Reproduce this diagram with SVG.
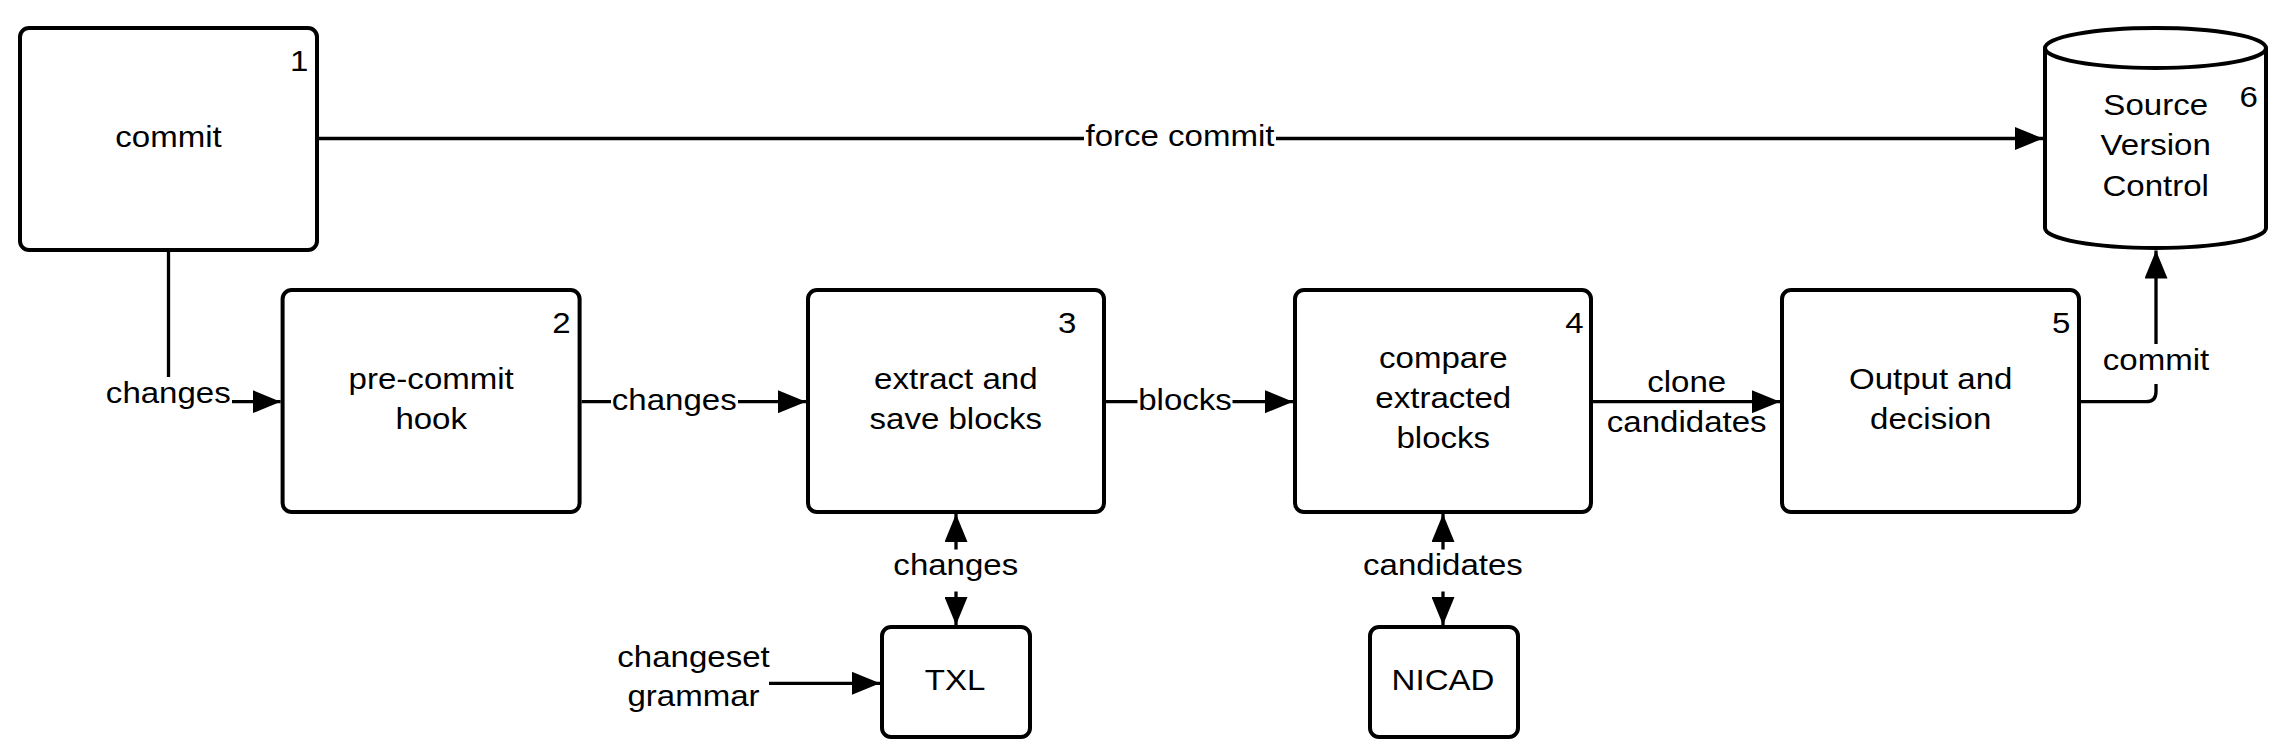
<svg xmlns="http://www.w3.org/2000/svg" width="2271" height="741" viewBox="0 0 2271 741">
<defs>
<style>
.box{fill:#fff;stroke:#000;stroke-width:4}
.edge{fill:none;stroke:#000;stroke-width:3.3}
.arrow{marker-end:url(#arr)}
.both{marker-start:url(#arr);marker-end:url(#arr)}
.t{font-family:"Liberation Sans",Arial,Helvetica,sans-serif;font-size:29.5px;fill:#000;text-anchor:middle}
.n{font-family:"Liberation Sans",Arial,Helvetica,sans-serif;font-size:29.5px;fill:#000;text-anchor:end}
.bg{fill:#fff;stroke:none}
</style>
<marker id="arr" markerUnits="userSpaceOnUse" viewBox="0 0 28 23" markerWidth="28" markerHeight="23" refX="28" refY="11.5" orient="auto-start-reverse">
<path d="M0,0 L28,11.5 L0,23 Z" fill="#000"/>
</marker>
</defs>
<rect width="2271" height="741" fill="#fff"/>

<g id="connectors">
<path class="edge arrow" d="M319,138.5 H2043"/>
<rect class="bg" x="1084" y="122" width="192" height="32"/>
<text class="t" transform="translate(1180,146) scale(1.12,1)">force commit</text>

<path class="edge arrow" d="M168.5,252 V401.7 H280.6"/>
<rect class="bg" x="104" y="377" width="128" height="36"/>
<text class="t" transform="translate(168.3,403) scale(1.12,1)">changes</text>

<path class="edge arrow" d="M581.6,401.7 H806"/>
<rect class="bg" x="611" y="394" width="127" height="16"/>
<text class="t" transform="translate(674.2,409.5) scale(1.12,1)">changes</text>

<path class="edge arrow" d="M1106,401.7 H1293"/>
<rect class="bg" x="1137.5" y="394" width="95" height="16"/>
<text class="t" transform="translate(1185,409.5) scale(1.12,1)">blocks</text>

<path class="edge arrow" d="M1593,401.7 H1780"/>
<text class="t" transform="translate(1686.7,391.7) scale(1.12,1)">clone<tspan x="0" dy="40">candidates</tspan></text>

<path class="edge arrow" d="M2081,401.7 H2146 Q2156,401.7 2156,391.7 V250.5"/>
<rect class="bg" x="2148" y="344" width="16" height="40"/>
<text class="t" transform="translate(2156,370) scale(1.12,1)">commit</text>

<path class="edge both" d="M956,514 V625"/>
<rect class="bg" x="948" y="549.5" width="16" height="42"/>
<text class="t" transform="translate(955.8,575) scale(1.12,1)">changes</text>

<path class="edge both" d="M1443,514 V625"/>
<rect class="bg" x="1435" y="549.5" width="16" height="42"/>
<text class="t" transform="translate(1443,575) scale(1.12,1)">candidates</text>

<path class="edge arrow" d="M769,683.3 H880"/>
<text class="t" transform="translate(693.5,667) scale(1.12,1)">changeset<tspan x="0" dy="39.5">grammar</tspan></text>
</g>

<g id="node1">
<rect class="box" x="20" y="28" width="297" height="222" rx="9"/>
<text class="t" transform="translate(168.5,146.7) scale(1.12,1)">commit</text>
<text class="n" transform="translate(308.5,70.7) scale(1.12,1)">1</text>
</g>

<g id="node2">
<rect class="box" x="282.6" y="290" width="297" height="222" rx="9"/>
<text class="t" transform="translate(431.2,388.5) scale(1.12,1)">pre-commit<tspan x="0" dy="40.5">hook</tspan></text>
<text class="n" transform="translate(570.6,333.2) scale(1.12,1)">2</text>
</g>

<g id="node3">
<rect class="box" x="808" y="290" width="296" height="222" rx="9"/>
<text class="t" transform="translate(955.8,388.5) scale(1.12,1)">extract and<tspan x="0" dy="40.5">save blocks</tspan></text>
<text class="n" transform="translate(1076.5,333.2) scale(1.12,1)">3</text>
</g>

<g id="node4">
<rect class="box" x="1295" y="290" width="296" height="222" rx="9"/>
<text class="t" transform="translate(1443.3,367.5) scale(1.12,1)">compare<tspan x="0" dy="40.5">extracted</tspan><tspan x="0" dy="40.5">blocks</tspan></text>
<text class="n" transform="translate(1583.6,333.2) scale(1.12,1)">4</text>
</g>

<g id="node5">
<rect class="box" x="1782" y="290" width="297" height="222" rx="9"/>
<text class="t" transform="translate(1930.7,388.5) scale(1.12,1)">Output and<tspan x="0" dy="40.5">decision</tspan></text>
<text class="n" transform="translate(2070.3,333.2) scale(1.12,1)">5</text>
</g>

<g id="node6">
<path class="box" d="M2045,48 A110.5,20 0 0 1 2266,48 V228 A110.5,20 0 0 1 2045,228 Z"/>
<path class="box" d="M2045,48 A110.5,20 0 0 0 2266,48" fill="none"/>
<text class="t" transform="translate(2155.7,115) scale(1.12,1)">Source<tspan x="0" dy="40.5">Version</tspan><tspan x="0" dy="40.5">Control</tspan></text>
<text class="n" transform="translate(2258,107) scale(1.12,1)">6</text>
</g>

<g id="txl">
<rect class="box" x="882" y="627" width="148" height="110" rx="9"/>
<text class="t" transform="translate(955,690) scale(1.12,1)">TXL</text>
</g>

<g id="nicad">
<rect class="box" x="1370" y="627" width="148" height="110" rx="9"/>
<text class="t" transform="translate(1443,690) scale(1.12,1)">NICAD</text>
</g>
</svg>
